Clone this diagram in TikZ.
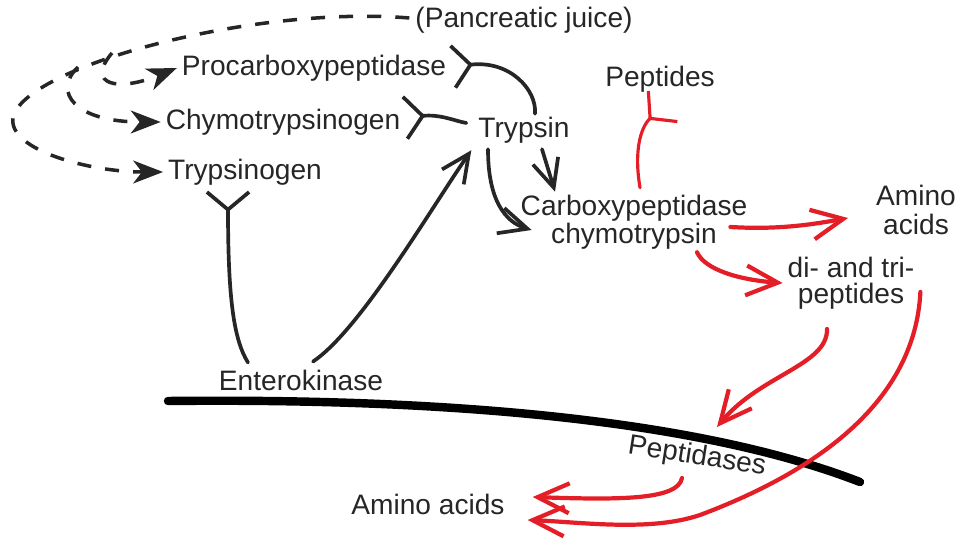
\documentclass[tikz,border=0pt]{standalone}
\usepackage{fontspec}
\setmainfont{Liberation Sans}
\usepackage{xcolor}
\usetikzlibrary{arrows.meta, calc}
\definecolor{inkdark}{HTML}{262626}
\definecolor{inkred}{HTML}{E41E26}

\begin{document}
\begin{tikzpicture}[
    x=0.02cm, y=-0.02cm,
    font=\fontsize{16}{16}\selectfont, text=inkdark,
    >={Straight Barb[length=16pt, width=15pt]},
    lbl/.style={inner sep=1pt, align=center},
    secr/.style={draw=inkdark, line width=2pt, dash pattern=on 8pt off 8pt,
      -{Stealth[length=17pt, width=13pt, inset=5pt]}},
    act/.style={->, draw=inkdark, line width=2.1pt, line cap=round},
    redact/.style={draw=inkred, line width=2.4pt, line cap=round,
      -{Straight Barb[length=18pt, width=17pt]}},
    fork/.style={draw=inkdark, line width=2.1pt, line cap=round,
      {Straight Barb[reversed, length=10pt, width=24pt]}-},
    redfork/.style={fork, draw=inkred, line width=1.8pt},
    membrane/.style={draw=black, line width=4.8pt, line cap=round}]
  \useasboundingbox (0,0) rectangle (969,553);

  % labels
  \node[lbl] (juice) at (524,20) {(Pancreatic juice)};
  \node[lbl] (procarb) at (314,68) {Procarboxypeptidase};
  \node[lbl] (chymo) at (283,122) {Chymotrypsinogen};
  \node[lbl] (trypsinogen) at (245,172) {Trypsinogen};
  \node[lbl] (trypsin) at (524,130) {Trypsin};
  \node[lbl] (peptides) at (660,79) {Peptides};
  \node[lbl] (carboxy) at (634,222) {Carboxypeptidase\\chymotrypsin};
  \node[lbl] (amino) at (916,210) {Amino\\acids};
  \node[lbl] (ditri) at (851,283) {di- and tri-\\[-1.5pt]peptides};
  \node[lbl] (entero) at (301,380) {Enterokinase};
  \node[lbl, rotate=-9] (peptidases) at (697,457) {Peptidases};
  \node[lbl] (aminoout) at (428,504) {Amino acids};

  % secretion (dashed)
  \coordinate (splita) at (112,53);
  \coordinate (splitb) at (78,67);
  \draw[secr] ($(juice.west)+(-4,-2)$) .. controls (250,5) and (22,68) .. (13,118)
    .. controls (8,150) and (90,172) .. ($(trypsinogen.west)+(-3,0)$);
  \draw[secr] (splitb) .. controls (52,92) and (75,122) .. ($(chymo.west)+(-3,0)$);
  \draw[secr] (splita) .. controls (85,85) and (118,92) .. ($(procarb.west)+(-3,0)$);

  % membrane
  \draw[membrane] (168,401) .. controls (450,398) and (700,420) .. (860,482);

  % activation
  \draw[fork] ($(procarb.east)+(3,-1)$) .. controls (510,60) and (537,90) .. ($(trypsin.north)+(11,-1)$);
  \draw[fork] ($(chymo.east)+(1,-4)$) .. controls (440,114) and (455,121) .. ($(trypsin.west)+(-10,-7)$);
  \draw[fork] ($(trypsinogen.south)+(-17,3)$) .. controls (228,300) and (234,340) .. ($(entero.north)+(-53,-5)$);
  \draw[act] ($(entero.north)+(12,-6)$) .. controls (360,330) and (430,210) .. ($(trypsin.south west)+(-5,5)$);
  \draw[act] ($(trypsin.south)+(-36,4)$) .. controls (488,200) and (505,222) .. ($(carboxy.west)+(13,8)$);
  \draw[act] ($(trypsin.south)+(18,4)$) -- ($(carboxy.north)+(-79,-1)$);

  % digestion (red)
  \draw[redfork] ($(peptides.south)+(4,11)$) .. controls (640,128) and (634,152) .. ($(carboxy.north)+(6,-5)$);
  \draw[redact] ($(carboxy.east)+(-19,5)$) .. controls (780,230) and (815,224) .. ($(amino.west)+(-26,8)$);
  \draw[redact] ($(carboxy.south)+(63,1)$) .. controls (705,270) and (740,280) .. ($(ditri.west)+(-3,0)$);
  \draw[redact] ($(ditri.south)+(-24,18)$) .. controls (828,365) and (760,375) .. ($(peptidases)+(20,-30)$);
  \draw[redact] ($(peptidases)+(-15,21)$) .. controls (678,500) and (620,500) .. ($(aminoout.east)+(26,-7)$);
  \draw[redact] ($(ditri.east)+(4,9)$) .. controls (915,400) and (820,470) .. (700,515)
    .. controls (650,532) and (580,522) .. ($(aminoout.east)+(21,16)$);
\end{tikzpicture}
\end{document}
